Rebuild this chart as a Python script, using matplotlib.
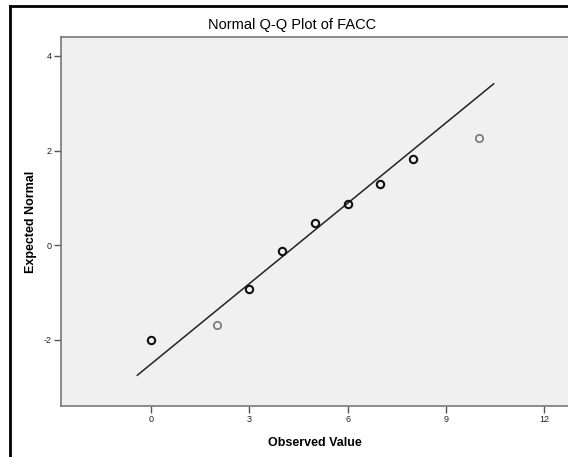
import matplotlib
matplotlib.use("Agg")
from matplotlib import pyplot as plt
from matplotlib.lines import Line2D

observed = [0, 2, 3, 4, 5, 6, 7, 8, 10]
expected = [-2.0, -1.68, -0.93, -0.13, 0.46, 0.87, 1.29, 1.82, 2.27]
# single cases are drawn lighter, repeated cases darker
repeated = [True, False, True, True, True, True, True, True, False]

line_x = [-0.42, 10.46]
line_y = [-2.75, 3.41]

x_ticks = [0, 3, 6, 9, 12]
y_ticks = [-2, 0, 2, 4]

plt.rcParams['font.family'] = ['Liberation Sans', 'DejaVu Sans']
plt.rcParams['axes.unicode_minus'] = False

fig = plt.figure(figsize=(5.68, 4.57), dpi=100)
ax = fig.add_axes([61 / 568, 1 - 406 / 457, 1 - 61 / 568, (406 - 37) / 457])
ax.set_facecolor('#f0f0f0')

ax.plot(line_x, line_y, color='#222222', linewidth=1.1, zorder=2)

for x, y, rep in zip(observed, expected, repeated):
    c = '#111111' if rep else '#777777'
    ax.plot(x, y, 'o', markersize=5.3, markerfacecolor='none', markeredgecolor=c,
            markeredgewidth=1.5 if rep else 1.2, zorder=3)

ax.set_xlim(-2.75, 12.73)
ax.set_ylim(-3.4, 4.4)
ax.set_xticks(x_ticks)
ax.set_yticks(y_ticks)
ax.tick_params(direction='out', length=5, width=1, color='#555555',
               labelsize=6.5, labelcolor='#222222', pad=1.5)

for s in ['left', 'bottom', 'top']:
    ax.spines[s].set_color('#777777')
    ax.spines[s].set_linewidth(1.2)
ax.spines['right'].set_visible(False)

ax.set_xlabel('Observed Value', fontsize=9, fontweight='bold', labelpad=9)
ax.set_ylabel('Expected Normal', fontsize=9, fontweight='bold')
ax.yaxis.set_label_coords(-(61 - 37) / (568 - 61), 0.5)
fig.text(292 / 568, 1 - 25 / 457, 'Normal Q-Q Plot of FACC',
         fontsize=10.5, ha='center', va='center')

# outer frame (left and top edges)
fig.add_artist(Line2D([10 / 568, 10 / 568], [0, 1 - 6 / 457], color='black',
                      linewidth=2, transform=fig.transFigure))
fig.add_artist(Line2D([10 / 568, 1], [1 - 6 / 457, 1 - 6 / 457], color='black',
                      linewidth=2, transform=fig.transFigure))

fig.savefig('out.png', dpi=100)
